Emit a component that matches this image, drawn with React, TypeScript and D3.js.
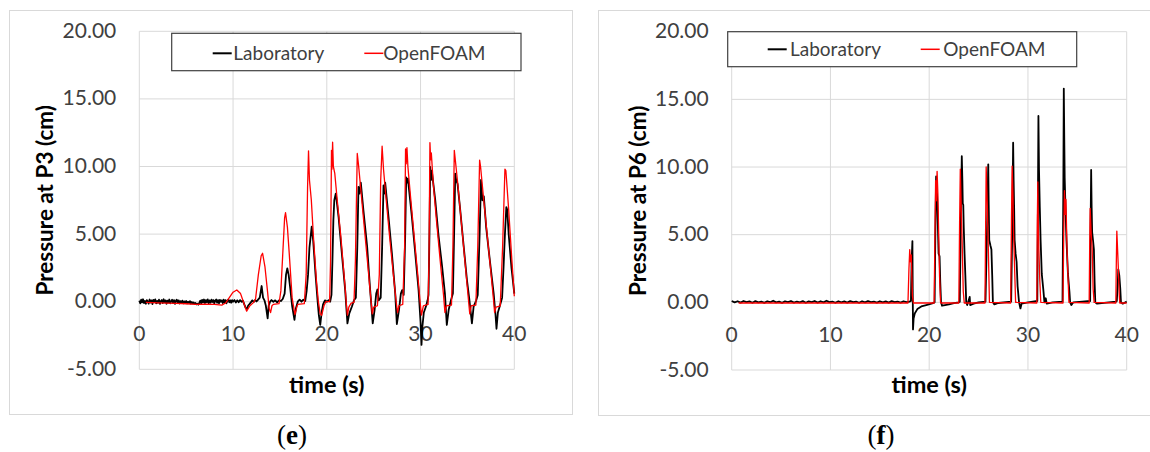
import React from 'react';
import * as d3 from 'd3';

type Pt = [number, number];

const xTicks = [0, 10, 20, 30, 40];
const yTicks = [-5, 0, 5, 10, 15, 20];
const seriesNames = ['Laboratory', 'OpenFOAM'];
const seriesColors = ['#000000', '#ff0000'];

// P3 – laboratory, quiet start (noisy baseline)
const p3LabBase: Pt[] = [
  [0.0, 0.08], [0.1, -0.12], [0.2, 0.15], [0.3, -0.05], [0.4, 0.18], [0.5, -0.1], [0.6, 0.05], [0.7, -0.15],
  [0.8, 0.12], [0.9, 0.02], [1.0, -0.14], [1.1, 0.16], [1.2, -0.06], [1.3, 0.1], [1.4, -0.18], [1.5, 0.14],
  [1.6, 0.0], [1.7, 0.17], [1.8, -0.12], [1.9, 0.06], [2.0, -0.08], [2.1, 0.15], [2.2, -0.16], [2.3, 0.04],
  [2.4, 0.12], [2.5, -0.1], [2.6, 0.18], [2.7, -0.04], [2.8, 0.1], [2.9, -0.15], [3.0, 0.08], [3.1, -0.06],
  [3.2, 0.16], [3.3, -0.12], [3.4, 0.02], [3.5, 0.14], [3.6, -0.1], [3.7, 0.12], [3.8, -0.16], [3.9, 0.06],
  [4.0, 0.15], [4.1, -0.08], [4.2, 0.1], [4.3, -0.13], [4.4, 0.04], [4.5, -0.1], [4.6, 0.08], [4.7, -0.12],
  [4.8, 0.02], [4.9, -0.08], [5.0, 0.05], [5.1, -0.12], [5.2, 0.0], [5.3, -0.1], [5.4, 0.04], [5.5, -0.14],
  [5.6, -0.02], [5.7, -0.12], [5.8, -0.06], [5.9, -0.16], [6.0, -0.1], [6.1, -0.2], [6.2, -0.14], [6.3, -0.22],
  [6.4, -0.1], [6.5, 0.08], [6.6, -0.12], [6.7, 0.14], [6.8, -0.06], [6.9, 0.16], [7.0, -0.1], [7.1, 0.12],
  [7.2, -0.04], [7.3, 0.17], [7.4, -0.12], [7.5, 0.1], [7.6, -0.08], [7.7, 0.15], [7.8, -0.02], [7.9, 0.12],
  [8.0, -0.14], [8.1, 0.08], [8.2, 0.16], [8.3, -0.08], [8.4, 0.12], [8.5, -0.12], [8.6, 0.14], [8.7, 0.0],
  [8.8, 0.1], [8.9, -0.1], [9.0, 0.15], [9.1, -0.06], [9.2, 0.12], [9.3, -0.12], [9.4, 0.08], [9.5, 0.16],
  [9.6, -0.04], [9.7, 0.1], [9.8, -0.08], [9.9, 0.12], [10.0, 0.0], [10.15, 0.12], [10.3, -0.06], [10.45, 0.1],
  [10.6, -0.04], [10.75, 0.12], [10.9, 0.0], [11.05, 0.08], [11.2, -0.2], [11.35, -0.45], [11.5, -0.55], [11.6, -0.3],
  [11.75, -0.18], [11.9, -0.05], [12.05, 0.1], [12.2, -0.02], [12.35, 0.12], [12.5, 0.02], [12.65, 0.14],
];

// P3 – laboratory, wave impacts
const p3LabWaves: Pt[] = [
  [12.85, 0.3], [13.05, 1.16], [13.2, 0.3], [13.35, 0.1], [13.5, -0.3], [13.69, -1.23], [13.8, -0.3], [13.95, 0.0],
  [14.1, 0.12], [14.3, 0.0], [14.5, 0.1], [14.7, -0.05], [14.9, 0.1], [15.1, 0.05], [15.3, 0.2], [15.5, 0.6],
  [15.65, 2.0], [15.79, 2.47], [15.93, 1.98], [16.1, 1.0], [16.3, -0.3], [16.55, -1.35], [16.7, -0.5], [16.9, 0.0],
  [17.1, 0.15], [17.3, 0.0], [17.5, 0.15], [17.7, 0.05], [17.85, 0.8], [18.0, 2.0], [18.15, 4.0], [18.39, 5.55],
  [18.55, 4.5], [18.8, 2.0], [19.0, 0.2], [19.15, -1.0], [19.3, -1.72], [19.45, -0.8], [19.6, -0.2], [19.8, 0.1],
  [20.0, 0.0], [20.2, 0.12], [20.36, 0.0], [20.5, 0.5], [20.6, 3.0], [20.7, 6.0], [20.8, 7.5], [20.96, 8.0],
  [21.1, 7.2], [21.25, 6.3], [21.6, 3.6], [21.96, 0.86], [22.2, -1.6], [22.4, -0.86], [22.67, -0.37], [22.9, 0.1],
  [23.1, 0.3], [23.25, 4.0], [23.38, 8.5], [23.5, 8.0], [23.63, 8.8], [23.9, 6.8], [24.3, 4.1], [24.6, 1.1],
  [24.9, -1.6], [25.1, -0.6], [25.27, 0.6], [25.4, 0.9], [25.55, 0.1], [25.75, 0.3], [25.9, 4.0], [26.05, 8.6],
  [26.15, 8.0], [26.23, 8.8], [26.58, 6.3], [26.94, 3.6], [27.3, 0.6], [27.47, -1.65], [27.7, -0.6], [27.9, 0.6],
  [28.04, 0.86], [28.2, 0.5], [28.35, 4.5], [28.47, 9.2], [28.55, 8.8], [28.65, 9.1], [29.07, 6.3], [29.43, 3.6],
  [29.79, 0.86], [30.0, -1.5], [30.1, -3.2], [30.2, -1.8], [30.35, -0.8], [30.6, -0.3], [30.75, 0.1], [30.85, 0.5],
  [30.95, 5.0], [31.03, 9.97], [31.12, 9.0], [31.2, 9.7], [31.57, 7.5], [31.9, 5.0], [32.3, 2.6], [32.6, 0.6],
  [32.8, -1.72], [33.0, -0.6], [33.24, 0.1], [33.45, 0.6], [33.58, 5.0], [33.7, 9.48], [33.8, 9.0], [33.95, 8.7],
  [34.23, 6.8], [34.6, 4.1], [34.95, 1.6], [35.2, 0.2], [35.48, -1.6], [35.66, -0.37], [35.94, 0.1], [36.1, 0.5],
  [36.3, 5.0], [36.45, 9.0], [36.6, 7.5], [36.75, 7.8], [37.0, 5.5], [37.4, 3.0], [37.8, 0.6], [38.0, -1.0],
  [38.1, -2.0], [38.25, -0.8], [38.5, -0.2], [38.7, 0.3], [38.85, 2.5], [39.0, 5.0], [39.15, 7.0], [39.25, 6.8],
  [39.4, 5.0], [39.7, 2.5], [40.0, 0.6],
];

// P3 – OpenFOAM
const p3Foam: Pt[] = [
  [0.7, -0.05], [2, -0.08], [3, -0.1], [4, -0.12], [5, -0.15], [6, -0.2], [7, -0.18], [8, -0.2], [8.8, -0.25],
  [9.2, -0.1], [9.6, 0.3], [10.0, 0.7], [10.4, 0.87], [10.8, 0.6], [11.1, 0.0], [11.45, -0.7], [11.8, -0.3],
  [12.2, -0.05], [12.4, 0.2], [12.7, 2.0], [13.0, 3.4], [13.15, 3.58], [13.4, 2.6], [13.7, 0.6], [13.85, -0.5],
  [14.0, -0.8], [14.15, -0.3], [14.3, -0.2], [14.9, -0.15], [15.1, 0.8], [15.3, 3.5], [15.5, 6.2], [15.6, 6.58],
  [15.8, 5.5], [16.0, 3.5], [16.3, 0.3], [16.6, -0.95], [16.8, -0.4], [16.9, -0.2], [17.6, -0.15], [17.8, 2.0],
  [17.95, 8.5], [18.05, 11.16], [18.15, 9.0], [18.35, 7.5], [18.6, 4.5], [18.9, 1.5], [19.1, 0], [19.3, -0.9],
  [19.45, -1.0], [19.7, -0.3], [19.9, 0.0], [20.3, 0.0], [20.4, 3.0], [20.5, 11.2], [20.55, 9.8], [20.62, 11.8],
  [20.7, 10.0], [20.85, 9.5], [21.1, 7.6], [21.5, 4.8], [21.9, 1.5], [22.1, -0.3], [22.2, -1.0], [22.35, -0.4],
  [22.6, -0.1], [22.9, -0.05], [23.05, 3], [23.25, 10.96], [23.4, 10.0], [23.6, 8.5], [24.0, 5.5], [24.4, 2.5],
  [24.7, 0.2], [24.85, -0.9], [25.0, -0.4], [25.4, -0.3], [25.6, 2], [25.75, 9], [25.9, 11.5], [26.05, 9.8],
  [26.3, 7.8], [26.7, 4.8], [27.1, 2.0], [27.4, 0], [27.55, -0.8], [27.7, -0.3], [28.1, -0.2], [28.3, 4],
  [28.4, 11.3], [28.47, 10.2], [28.55, 11.4], [28.65, 10.0], [28.9, 8.0], [29.3, 5.0], [29.7, 2.0], [29.95, 0],
  [30.1, -1.0], [30.3, -0.3], [30.8, -0.2], [30.9, 3], [31.0, 11.77], [31.08, 10.5], [31.15, 11.0], [31.35, 8.8],
  [31.7, 6.0], [32.1, 3.0], [32.45, 0.5], [32.6, -0.8], [32.75, -0.3], [33.3, -0.25], [33.45, 4], [33.6, 11.2],
  [33.75, 10.2], [34.0, 8.5], [34.4, 5.5], [34.8, 2.5], [35.1, 0.2], [35.25, -0.9], [35.4, -0.3], [35.9, -0.25],
  [36.1, 4], [36.3, 10.47], [36.4, 10.0], [36.7, 7.8], [37.1, 5.0], [37.5, 2.2], [37.8, 0], [37.9, -0.8],
  [38.05, -0.4], [38.5, -0.3], [38.75, 4], [39.0, 9.8], [39.1, 9.7], [39.4, 6.8], [39.7, 3.5], [40.0, 0.4],
];

// P6 – laboratory, quiet start
const p6LabBase: Pt[] = [
  [0, 0.1], [0.3, 0.0], [0.6, 0.08], [0.9, -0.02], [1.2, 0.1], [1.5, 0.02], [1.8, 0.07], [2.1, -0.03],
  [2.4, 0.09], [2.7, 0.0], [3.0, 0.06], [3.3, -0.04], [3.6, 0.08], [3.9, 0.01], [4.2, 0.12], [4.5, 0.0],
  [4.8, 0.05], [5.1, -0.04], [5.4, 0.08], [5.7, 0.02], [6.0, 0.1], [6.3, -0.02], [6.6, 0.06], [6.9, 0.0],
  [7.2, 0.09], [7.5, -0.03], [7.8, 0.07], [8.1, 0.01], [8.4, 0.1], [8.7, -0.02], [9.0, 0.08], [9.3, 0.0],
  [9.6, 0.12], [9.9, 0.02], [10.2, 0.06], [10.5, -0.03], [10.8, 0.08], [11.1, 0.0], [11.4, 0.07], [11.7, -0.02],
  [12.0, 0.09], [12.3, 0.01], [12.6, 0.06], [12.9, -0.03], [13.2, 0.08], [13.5, 0.0], [13.8, 0.1], [14.1, 0.02],
  [14.4, 0.06], [14.7, -0.02], [15.0, 0.08], [15.3, 0.0], [15.6, 0.07], [15.9, -0.02], [16.2, 0.09], [16.5, 0.01],
  [16.8, 0.06], [17.1, -0.02], [17.4, 0.08], [17.7, 0.02],
];

// P6 – laboratory, impacts
const p6LabWaves: Pt[] = [
  [18.0, 0.05], [18.15, 0.1], [18.22, 3.0], [18.3, 4.53], [18.33, 1.0], [18.36, -2.0], [18.42, -1.2], [18.55, -0.8],
  [18.8, -0.5], [19.2, -0.3], [19.7, -0.2], [20.3, -0.07], [20.55, 0.0], [20.62, 5.0], [20.7, 9.3], [20.78, 8.5],
  [20.85, 6.5], [20.95, 3.6], [21.05, 3.4], [21.12, 1.5], [21.2, 0], [21.3, -0.25], [21.6, -0.2], [22.0, -0.15],
  [22.5, -0.05], [23.0, 0.0], [23.1, 0.05], [23.2, 6], [23.3, 10.8], [23.36, 9.0], [23.4, 7.3], [23.45, 7.2],
  [23.5, 5.5], [23.58, 3.6], [23.66, 2.0], [23.75, 0], [23.85, -0.2], [24.1, 0.4], [24.15, -0.2], [24.5, -0.1],
  [25.0, 0], [25.7, 0.05], [25.85, 5], [25.98, 10.2], [26.02, 7.5], [26.08, 4.6], [26.2, 4.2], [26.3, 3.9],
  [26.38, 2.0], [26.45, 0], [26.6, -0.15], [27, -0.05], [28.3, 0.05], [28.42, 6], [28.5, 11.8], [28.55, 9.0],
  [28.6, 7.0], [28.65, 4.6], [28.75, 3.6], [28.85, 3.0], [28.95, 1.2], [29.1, 0], [29.24, -0.45], [29.35, -0.1],
  [30, 0], [30.95, 0.1], [31.0, 6], [31.06, 13.77], [31.12, 9.8], [31.2, 7], [31.28, 4.6], [31.4, 2.1],
  [31.55, 1.0], [31.67, 0], [31.8, 0.3], [31.9, -0.1], [32.5, 0], [33.5, 0.05], [33.58, 8], [33.63, 15.8],
  [33.68, 12], [33.72, 9.2], [33.8, 7.0], [33.9, 4.6], [34.05, 2.1], [34.2, 0.8], [34.27, 0], [34.4, -0.2],
  [34.6, 0], [35.5, 0.05], [36.3, 0.1], [36.35, 6], [36.4, 9.78], [36.45, 7.0], [36.5, 5.2], [36.6, 4.5],
  [36.68, 3.9], [36.75, 1.5], [36.82, 0], [37, -0.1], [38.9, 0.05], [39.0, 0.1], [39.1, 1.5], [39.15, 2.44],
  [39.25, 2.0], [39.35, 1.0], [39.42, 0], [39.6, -0.1], [40, 0.05],
];

// P6 – OpenFOAM
const p6Foam: Pt[] = [
  [0.7, -0.05], [5, -0.05], [10, -0.05], [15, -0.05], [17.85, -0.05], [17.95, 2.5], [18.03, 3.9], [18.1, 3.0],
  [18.18, 3.5], [18.3, 0.5], [18.4, -0.05], [20.5, -0.05], [20.6, 6.0], [20.65, 9.0], [20.72, 7.5], [20.8, 9.68],
  [20.88, 8.0], [20.96, 5.1], [21.05, 1.9], [21.15, 0], [21.2, -0.05], [23.0, -0.05], [23.08, 6], [23.15, 9.85],
  [23.25, 6.8], [23.35, 4.0], [23.45, 0.8], [23.55, -0.05], [25.65, -0.05], [25.72, 6], [25.77, 10.0], [25.9, 6.8],
  [26.0, 3.5], [26.1, 0], [28.25, -0.05], [28.33, 6], [28.4, 10.07], [28.48, 8.0], [28.55, 5.0], [28.65, 2.5],
  [28.75, 0], [30.9, -0.05], [30.95, 6], [31.0, 8.9], [31.05, 6.0], [31.1, 4.0], [31.2, 1.6], [31.3, 0],
  [33.55, -0.05], [33.62, 5], [33.7, 8.25], [33.78, 6.5], [33.85, 7.6], [33.95, 4.0], [34.05, 2.0], [34.15, 0],
  [36.2, -0.05], [36.25, 4], [36.3, 6.95], [36.4, 5.1], [36.5, 4.0], [36.6, 1], [36.7, 0], [38.9, -0.05],
  [38.95, 3], [39.0, 5.27], [39.1, 3.5], [39.15, 2.6], [39.25, 0.5], [39.3, -0.05], [40, -0.05],
];

const fmt = d3
  .formatLocale({ decimal: '.', thousands: ',', grouping: [3], currency: ['', ''], minus: '-' })
  .format('.2f');

const FONT = "Lato, 'Open Sans', sans-serif";

interface Layout {
  frame: { x: number; y: number; w: number; h: number };
  x0: number; x1: number; yt: number; yb: number;
  legend: { x: number; y: number; w: number; h: number; l1: number; t1: number; l2: number; t2: number; ly: number; ty: number };
  yTitleX: number;
  capX: number;
}

function Panel({ L, lab, foam, yTitle, capLetter }: { L: Layout; lab: Pt[]; foam: Pt[]; yTitle: string; capLetter: string }) {
  const x = d3.scaleLinear().domain([0, 40]).range([L.x0, L.x1]);
  const y = d3.scaleLinear().domain([-5, 20]).range([L.yb, L.yt]);
  const line = d3.line<Pt>().x((d) => x(d[0])).y((d) => y(d[1]));
  const lg = L.legend;
  return (
    <g>
      <rect x={L.frame.x} y={L.frame.y} width={L.frame.w} height={L.frame.h} fill="#fff" stroke="#d9d9d9" strokeWidth={1} />
      {yTicks.map((t) => (
        <line key={'h' + t} x1={L.x0} x2={L.x1} y1={y(t)} y2={y(t)} stroke="#d9d9d9" strokeWidth={1} />
      ))}
      {xTicks.map((t) => (
        <line key={'v' + t} x1={x(t)} x2={x(t)} y1={L.yt} y2={L.yb} stroke="#d9d9d9" strokeWidth={1} />
      ))}
      {yTicks.map((t) => (
        <text key={'yl' + t} x={L.x0 - 23} y={y(t) + 6.5} textAnchor="end" fontFamily={FONT} fontSize={21} fill="#404040">
          {fmt(t)}
        </text>
      ))}
      {xTicks.map((t) => (
        <text key={'xl' + t} x={x(t)} y={y(0) + 39.5} textAnchor="middle" fontFamily={FONT} fontSize={21} fill="#404040">
          {t}
        </text>
      ))}
      <path d={line(lab) || ''} fill="none" stroke={seriesColors[0]} strokeWidth={1.8} strokeLinejoin="round" />
      <path d={line(foam) || ''} fill="none" stroke={seriesColors[1]} strokeWidth={1.3} strokeLinejoin="round" />
      <text x={(L.x0 + L.x1) / 2} y={393} textAnchor="middle" fontFamily={FONT} fontWeight="bold" fontSize={23.5} fill="#000">
        time (s)
      </text>
      <text
        transform={`translate(${L.yTitleX},${(L.yt + L.yb) / 2}) rotate(-90)`}
        textAnchor="middle"
        dominantBaseline="central"
        fontFamily={FONT}
        fontWeight="bold"
        fontSize={22.5}
        fill="#000"
      >
        {yTitle}
      </text>
      <rect x={lg.x} y={lg.y} width={lg.w} height={lg.h} fill="#fff" stroke="#404040" strokeWidth={1.2} />
      <line x1={lg.l1} x2={lg.l1 + 19} y1={lg.ly} y2={lg.ly} stroke={seriesColors[0]} strokeWidth={2} />
      <text x={lg.t1} y={lg.ty} fontFamily={FONT} fontSize={19} fill="#404040">{seriesNames[0]}</text>
      <line x1={lg.l2} x2={lg.l2 + 19} y1={lg.ly} y2={lg.ly} stroke={seriesColors[1]} strokeWidth={1.5} />
      <text x={lg.t2} y={lg.ty} fontFamily={FONT} fontSize={19} fill="#404040">{seriesNames[1]}</text>
      <text x={L.capX} y={444} textAnchor="middle" fontFamily="'Liberation Serif', 'DejaVu Serif', serif" fontSize={27} fill="#000">
        (<tspan fontWeight="bold">{capLetter}</tspan>)
      </text>
    </g>
  );
}

const leftLayout: Layout = {
  frame: { x: 9.5, y: 10.5, w: 563, h: 404 },
  x0: 139.3, x1: 514.3, yt: 31.3, yb: 369.3,
  legend: { x: 171.7, y: 33.3, w: 349.3, h: 37.4, l1: 212.7, t1: 233.3, l2: 364.3, t2: 383.3, ly: 53.3, ty: 59.5 },
  yTitleX: 44,
  capX: 292,
};

const rightLayout: Layout = {
  frame: { x: 598.5, y: 10.5, w: 570, h: 405 },
  x0: 731.7, x1: 1126.7, yt: 31.7, yb: 370,
  legend: { x: 727.7, y: 31.7, w: 349, h: 35, l1: 767.7, t1: 790, l2: 920.7, t2: 943.3, ly: 49.3, ty: 56 },
  yTitleX: 637,
  capX: 881,
};

export default function App() {
  return (
    <svg width={1150} height={452} style={{ position: 'absolute', left: 0, top: 0, display: 'block', background: '#fff' }}>
      <rect x={0} y={0} width={1150} height={452} fill="#fff" />
      <Panel L={leftLayout} lab={[...p3LabBase, ...p3LabWaves]} foam={p3Foam} yTitle="Pressure at P3 (cm)" capLetter="e" />
      <Panel L={rightLayout} lab={[...p6LabBase, ...p6LabWaves]} foam={p6Foam} yTitle="Pressure at P6 (cm)" capLetter="f" />
    </svg>
  );
}
